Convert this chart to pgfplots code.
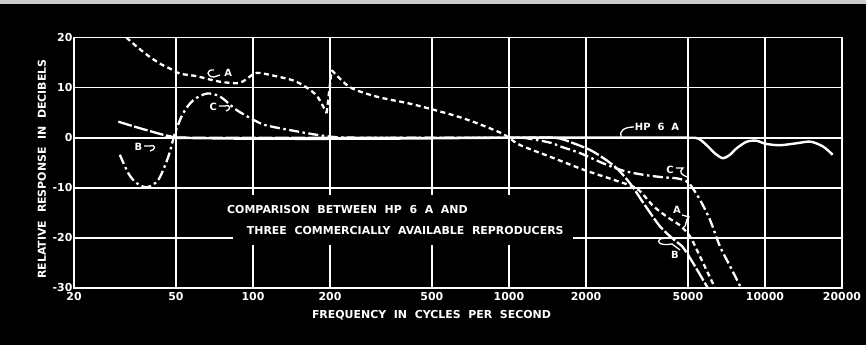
\documentclass[border=0pt]{standalone}
\usepackage{fontspec}
\setmainfont{DejaVu Sans}[BoldFont={DejaVu Sans Bold}, WordSpace=2]
\usepackage{pgfplots}
\pgfplotsset{compat=1.18}
\newcommand{\lbl}{\fontsize{11}{13}\selectfont\bfseries}
\newcommand{\slbl}{\fontsize{10}{11}\selectfont\bfseries}
\begin{document}
\begin{tikzpicture}
\useasboundingbox (0,0) rectangle (866bp,345bp);
\fill[black] (0,0) rectangle (866bp,345bp);
\fill[gray!40] (0,341bp) rectangle (866bp,345bp);
\begin{axis}[at={(74bp,57bp)},anchor=south west,scale only axis,
  width=768bp,height=250.5bp,
  xmode=log, xmin=20, xmax=20000, ymin=-30, ymax=20,
  xtick={20,50,100,200,500,1000,2000,5000,10000,20000},
  xticklabels={20,50,100,200,500,1000,2000,5000,10000,20000},
  ytick={-30,-20,-10,0,10,20},
  yticklabels={-30,-20,-10,0,10,20},
  xminorticks=false, yminorticks=false,
  grid=major, major grid style={white,line width=1.6bp},
  axis line style={white,line width=1.6bp},
  major tick length=0pt,
  ticklabel style={white,font=\lbl},
  xticklabel style={yshift=-1bp},
  yticklabel style={xshift=2bp},
  axis background/.style={fill=black},
]
% HP 6A
\addplot[white,line width=2.4bp,smooth,tension=0.5] coordinates {
(47,0) (100,-0.2) (300,-0.2) (1000,0) (3000,0) (5000,0) (5500,-0.2) (5920,-1.5) (6400,-3.2) (6856,-4.1) (7300,-3.4) (7760,-2.1) (8490,-0.8) (9290,-0.6) (10000,-1.2) (11440,-1.5) (13330,-1.1) (15100,-0.8) (16910,-1.8) (18380,-3.4)};
% A
\addplot[white,line width=2.3bp,smooth,tension=0.5,dash pattern=on 5bp off 3.5bp] coordinates {
(32,20) (35.5,18) (39.6,16.1) (44,14.6) (47.4,13.8) (51.8,12.8) (60,12.3) (68,11.6) (76,11.1) (88,10.9) (95,11.8) (101,12.8) (107,12.9) (125,12.2) (144,11.4) (160,10.2) (178,8.3) (194,4.9)};
\addplot[white,line width=2.3bp,dash pattern=on 5bp off 3.5bp] coordinates {(194,4.9) (203,13.5)};
\addplot[white,line width=2.3bp,smooth,tension=0.5,dash pattern=on 5bp off 3.5bp] coordinates {
(203,13.5) (239,10.1) (304,8.2) (410,6.8) (506,5.6) (624,4.3) (750,2.9) (926,1.0) (1000,0) (1108,-1.5) (1448,-3.8) (1958,-6.4) (2630,-8.6) (3166,-10.2) (3674,-13.7) (4200,-16) (4654,-17.5) (5096,-19.7) (5574,-23.7) (6288,-29.3) (6380,-30)};
% B
\addplot[white,line width=2.3bp,smooth,tension=0.5,dash pattern=on 14bp off 2.5bp] coordinates {
(29.8,3.2) (34,2.3) (38.5,1.5) (47.4,0.3) (60,0) (1000,0) (1500,0) (1784,-1.1) (2136,-2.8) (2596,-5.8) (2970,-9.1) (3348,-13) (3890,-17.7) (4400,-20.3) (4786,-21.9) (5236,-25) (5920,-29.6) (5990,-30)};
% C
\addplot[white,line width=2.3bp,smooth,tension=0.5,dash pattern=on 10bp off 3.5bp on 2.5bp off 3.5bp] coordinates {
(30.2,-3.4) (32.6,-7.1) (35,-9) (38.5,-9.9) (42.7,-8.4) (46.7,-3.8) (49.6,0.9) (53.4,4.9) (58.5,7.5) (66,8.8) (74.4,8.2) (86.5,5.5) (103.7,3.2) (114,2.4) (143.6,1.4) (194,0.3) (260,0) (1000,0) (1200,-0.2) (1450,-1.0) (1600,-1.8) (1900,-3.1) (2330,-5.1) (2800,-6.6) (3350,-7.4) (4000,-7.9) (4520,-8.1) (4900,-8.6) (5096,-9.3) (5574,-12.4) (6100,-16.4) (6672,-21.7) (7300,-25.6) (7996,-29.6) (8050,-30)};
\end{axis}
% text box over grid
\fill[black] (233bp,100bp) rectangle (573bp,150bp);
\node[white,anchor=west,inner sep=0,font=\lbl] at (227bp,135.3bp) {COMPARISON BETWEEN HP 6 A AND};
\node[white,anchor=west,inner sep=0,font=\lbl] at (246.7bp,114.5bp) {THREE COMMERCIALLY AVAILABLE REPRODUCERS};
% axis titles
\node[white,rotate=90,inner sep=0,font=\lbl] at (42bp,176bp) {RELATIVE RESPONSE IN DECIBELS};
\node[white,inner sep=0,font=\lbl] at (431.5bp,30bp) {FREQUENCY IN CYCLES PER SECOND};
% curve labels and leaders
\begin{scope}[white,line width=1.3bp]
\node[inner sep=0,font=\slbl] at (657bp,218.3bp) {HP 6 A};
\draw (621bp,208bp) .. controls (619bp,214bp) and (624bp,218bp) .. (634bp,218bp);
\node[inner sep=0,font=\slbl] at (670bp,175bp) {C};
\draw (676bp,177bp) -- (683bp,177bp) .. controls (678bp,173bp) and (682bp,170bp) .. (687bp,168bp);
\node[inner sep=0,font=\slbl] at (677bp,135bp) {A};
\draw (682bp,130bp) -- (689bp,128bp) .. controls (684bp,124bp) and (688bp,120bp) .. (683bp,117bp);
\node[inner sep=0,font=\slbl] at (675bp,90bp) {B};
\draw (671bp,108bp) -- (660bp,106bp) .. controls (656bp,103bp) and (660bp,99bp) .. (672bp,101bp) -- (680bp,95bp);
\node[inner sep=0,font=\slbl] at (138.3bp,198.3bp) {B};
\draw (144bp,199bp) -- (150bp,199bp) .. controls (156bp,201bp) and (156bp,195bp) .. (150bp,194bp);
\node[inner sep=0,font=\slbl] at (213.3bp,238.3bp) {C};
\draw (219bp,239bp) -- (225bp,239bp) .. controls (231bp,241bp) and (231bp,235bp) .. (226bp,234bp);
\node[inner sep=0,font=\slbl] at (228.3bp,272.3bp) {A};
\draw (214bp,275bp) .. controls (206bp,276bp) and (206bp,268bp) .. (214bp,268bp) -- (220bp,270bp);
\end{scope}
\end{tikzpicture}
\end{document}
